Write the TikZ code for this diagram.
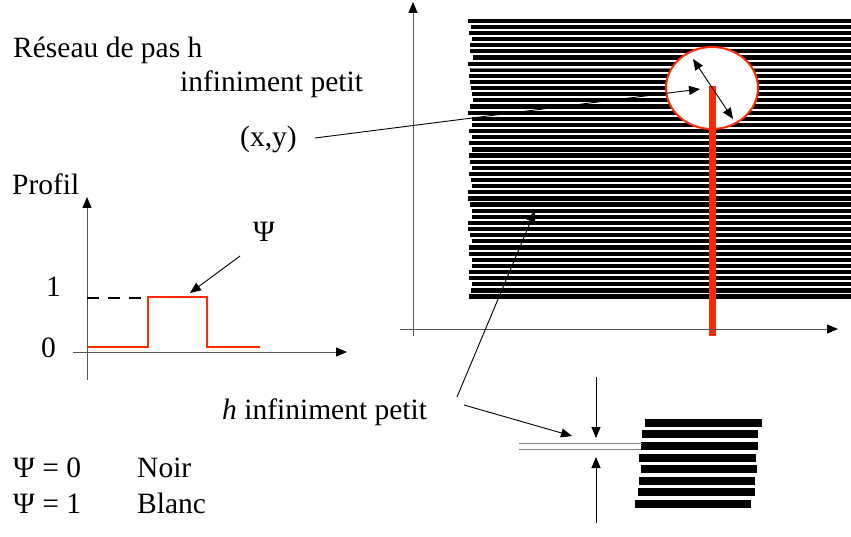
\documentclass[tikz,border=0pt]{standalone}
\usepackage{fontspec}
\setmainfont{Liberation Serif}
\usetikzlibrary{arrows.meta}
\definecolor{GridRed}{HTML}{FF2A00}
\definecolor{AxisGray}{HTML}{555555}

\begin{document}
\begin{tikzpicture}[x=1pt,y=-1pt,>={Triangle[length=11pt,width=9pt]},
    lbl/.style={inner sep=0,anchor=base west,font=\fontsize{29.5}{34}\selectfont},
    axis/.style={AxisGray,line width=1pt,-{Triangle[length=11pt,width=9pt,color=black]}},
    pointer/.style={->,line width=0.9pt},
    gratebar/.style={line width=4.2pt},
    smallbar/.style={line width=7.5pt}]
  \useasboundingbox (0,0) rectangle (851,537);
  \pgfmathsetseed{12}
  \foreach \k in {0,...,45}{
    \pgfmathsetmacro\xl{470+2.6*rand}
    \draw[gratebar] (\xl,20.7+6.13*\k) -- (851,20.7+6.13*\k);
  }
  \draw[gray,line width=0.8pt] (471,68) -- (851,68);
  \draw[GridRed,line width=2pt,fill=white] (712,88) ellipse [x radius=46,y radius=41];
  \draw[GridRed,line width=7pt] (712,86) -- (712,336);
  \draw[axis] (413,336) -- (413,2);
  \draw[axis] (400,329) -- (838,329);
  \coordinate (diamA) at (693,59);
  \coordinate (diamB) at (733,119);
  \draw[<->,line width=0.9pt] (diamA) -- (diamB);

  \node[lbl] (title) at (13,58) {Réseau de pas h};
  \node[lbl] (title2) at (180,92) {infiniment petit};
  \node[lbl] (xy) at (240,147) {(x,y)};
  \coordinate (xyfrom) at (315,138);
  \coordinate (xyto) at (700,89);
  \draw[pointer] (xyfrom) -- (xyto);

  \node[lbl] (profil) at (12,195) {Profil};
  \draw[axis] (87,380) -- (87,197);
  \draw[axis] (73,352) -- (347,352);
  \node[lbl] (one) at (46,297) {1};
  \node[lbl] (zero) at (41,357) {0};
  \draw[line width=2pt,dash pattern=on 12pt off 9pt] (87,298) -- (147,298);
  \draw[GridRed,line width=2pt] (87,347) -- (148,347) -- (148,297) -- (207,297) -- (207,347) -- (260,347);
  \node[lbl] (psi) at (253,242) {Ψ};
  \coordinate (psifrom) at (240,256);
  \coordinate (psito) at (190,293);
  \draw[pointer] (psifrom) -- (psito);

  \node[lbl] (hsmall) at (222,419) {\textit{h} infiniment petit};
  \coordinate (hfrom) at (457,397);
  \coordinate (hgrid) at (535,211);
  \coordinate (hfrom2) at (464,405);
  \coordinate (hgap) at (572,436);
  \draw[pointer] (hfrom) -- (hgrid);
  \draw[pointer] (hfrom2) -- (hgap);

  \foreach \y/\a/\b in {423/645/762,434/642/758,446/641/758,458/639/756,469/641/757,481/639/755,492/638/755,504/635/751}
    \draw[smallbar] (\a,\y) -- (\b,\y);
  \draw[gray,line width=1pt] (519,443) -- (642,443);
  \draw[gray,line width=1pt] (519,449) -- (641,449);
  \coordinate (gaptop) at (596,377);
  \coordinate (gapup) at (596,438);
  \coordinate (gapbot) at (596,523);
  \coordinate (gapdown) at (596,457);
  \draw[pointer] (gaptop) -- (gapup);
  \draw[pointer] (gapbot) -- (gapdown);

  \node[lbl] (psi0) at (13,477) {Ψ = 0};
  \node[lbl] (noir) at (137,477) {Noir};
  \node[lbl] (psi1) at (13,513) {Ψ = 1};
  \node[lbl] (blanc) at (137,513) {Blanc};
\end{tikzpicture}
\end{document}
